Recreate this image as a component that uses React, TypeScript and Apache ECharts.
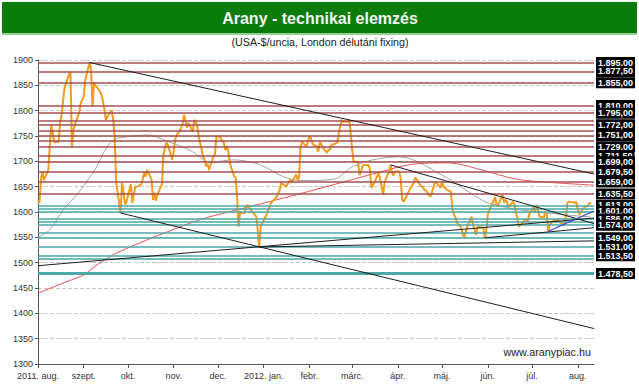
import React, { useEffect, useRef } from "react";
import * as echarts from "echarts";

const FONT = 'Arial, "Liberation Sans", sans-serif';
const START = Date.UTC(2011, 7, 1);
const END = Date.UTC(2012, 7, 12);

const monthNames = ["jan.", "febr.", "márc.", "ápr.", "máj.", "jún.", "júl.", "aug.", "szept.", "okt.", "nov.", "dec."];

// Gold price, London PM fixing (USD/oz)
const pricePoints: [string, number][] = [
  ["2011-08-01", 1623], ["2011-08-02", 1618], ["2011-08-03", 1665], ["2011-08-04", 1680], ["2011-08-05", 1663],
  ["2011-08-08", 1683], ["2011-08-09", 1732], ["2011-08-10", 1772], ["2011-08-11", 1755], ["2011-08-12", 1738],
  ["2011-08-15", 1738], ["2011-08-16", 1778], ["2011-08-17", 1790], ["2011-08-18", 1820], ["2011-08-19", 1845],
  ["2011-08-22", 1871], ["2011-08-23", 1877.5], ["2011-08-24", 1729], ["2011-08-25", 1760], ["2011-08-26", 1772],
  ["2011-08-29", 1797], ["2011-08-30", 1815], ["2011-08-31", 1822],
  ["2011-09-01", 1826], ["2011-09-02", 1860], ["2011-09-05", 1895], ["2011-09-06", 1880], ["2011-09-07", 1808],
  ["2011-09-08", 1855], ["2011-09-09", 1850], ["2011-09-12", 1838], ["2011-09-13", 1831], ["2011-09-14", 1820],
  ["2011-09-15", 1802], ["2011-09-16", 1782], ["2011-09-19", 1798], ["2011-09-20", 1800], ["2011-09-21", 1782],
  ["2011-09-22", 1749], ["2011-09-23", 1658], ["2011-09-26", 1598], ["2011-09-27", 1658], ["2011-09-28", 1640],
  ["2011-09-29", 1615], ["2011-09-30", 1620],
  ["2011-10-03", 1655], ["2011-10-04", 1618], ["2011-10-05", 1635], ["2011-10-06", 1650], ["2011-10-07", 1650],
  ["2011-10-10", 1654], ["2011-10-11", 1664], ["2011-10-12", 1678], ["2011-10-13", 1670], ["2011-10-14", 1683],
  ["2011-10-17", 1664], ["2011-10-18", 1624], ["2011-10-19", 1638], ["2011-10-20", 1622], ["2011-10-21", 1635],
  ["2011-10-24", 1654], ["2011-10-25", 1713], ["2011-10-26", 1725], ["2011-10-27", 1737], ["2011-10-28", 1733],
  ["2011-10-31", 1703],
  ["2011-11-01", 1720], ["2011-11-02", 1743], ["2011-11-03", 1752], ["2011-11-04", 1755], ["2011-11-07", 1772],
  ["2011-11-08", 1792], ["2011-11-09", 1780], ["2011-11-10", 1766], ["2011-11-11", 1776], ["2011-11-14", 1758],
  ["2011-11-15", 1782], ["2011-11-16", 1778], ["2011-11-17", 1770], ["2011-11-18", 1749], ["2011-11-21", 1709],
  ["2011-11-22", 1703], ["2011-11-23", 1690], ["2011-11-24", 1695], ["2011-11-25", 1683], ["2011-11-28", 1710],
  ["2011-11-29", 1715], ["2011-11-30", 1749],
  ["2011-12-01", 1749], ["2011-12-02", 1749], ["2011-12-05", 1737], ["2011-12-06", 1722], ["2011-12-07", 1730],
  ["2011-12-08", 1720], ["2011-12-09", 1697], ["2011-12-12", 1670], ["2011-12-13", 1668], ["2011-12-14", 1630],
  ["2011-12-15", 1571], ["2011-12-16", 1598], ["2011-12-19", 1598], ["2011-12-20", 1610], ["2011-12-21", 1614],
  ["2011-12-22", 1610], ["2011-12-23", 1605], ["2011-12-27", 1591], ["2011-12-28", 1565], ["2011-12-29", 1531],
  ["2011-12-30", 1571],
  ["2012-01-03", 1595], ["2012-01-04", 1604], ["2012-01-05", 1610], ["2012-01-06", 1618], ["2012-01-09", 1627],
  ["2012-01-10", 1630], ["2012-01-11", 1638], ["2012-01-12", 1644], ["2012-01-13", 1658], ["2012-01-16", 1650],
  ["2012-01-17", 1654], ["2012-01-18", 1658], ["2012-01-19", 1664], ["2012-01-20", 1658], ["2012-01-23", 1674],
  ["2012-01-24", 1664], ["2012-01-25", 1668], ["2012-01-26", 1727], ["2012-01-27", 1739], ["2012-01-30", 1729],
  ["2012-01-31", 1739],
  ["2012-02-01", 1749], ["2012-02-02", 1747], ["2012-02-03", 1735], ["2012-02-06", 1729], ["2012-02-07", 1719],
  ["2012-02-08", 1737], ["2012-02-09", 1735], ["2012-02-10", 1727], ["2012-02-13", 1717], ["2012-02-14", 1723],
  ["2012-02-15", 1723], ["2012-02-16", 1733], ["2012-02-17", 1733], ["2012-02-20", 1737], ["2012-02-21", 1756],
  ["2012-02-22", 1770], ["2012-02-23", 1782], ["2012-02-24", 1778], ["2012-02-27", 1778], ["2012-02-28", 1782],
  ["2012-02-29", 1756],
  ["2012-03-01", 1723], ["2012-03-02", 1699], ["2012-03-05", 1699], ["2012-03-06", 1673], ["2012-03-07", 1680],
  ["2012-03-08", 1690], ["2012-03-09", 1693], ["2012-03-12", 1693], ["2012-03-13", 1685], ["2012-03-14", 1648],
  ["2012-03-15", 1652], ["2012-03-16", 1658], ["2012-03-19", 1677], ["2012-03-20", 1664], ["2012-03-21", 1650],
  ["2012-03-22", 1634], ["2012-03-23", 1658], ["2012-03-26", 1680], ["2012-03-27", 1693], ["2012-03-28", 1679],
  ["2012-03-29", 1672], ["2012-03-30", 1680],
  ["2012-04-02", 1680], ["2012-04-03", 1664], ["2012-04-04", 1624], ["2012-04-05", 1620], ["2012-04-10", 1650],
  ["2012-04-11", 1654], ["2012-04-12", 1660], ["2012-04-13", 1668], ["2012-04-16", 1654], ["2012-04-17", 1650],
  ["2012-04-18", 1650], ["2012-04-19", 1643], ["2012-04-20", 1643], ["2012-04-23", 1630], ["2012-04-24", 1638],
  ["2012-04-25", 1648], ["2012-04-26", 1658], ["2012-04-27", 1658], ["2012-04-30", 1648],
  ["2012-05-01", 1660], ["2012-05-02", 1650], ["2012-05-03", 1648], ["2012-05-04", 1644], ["2012-05-07", 1640],
  ["2012-05-08", 1605], ["2012-05-09", 1595], ["2012-05-10", 1590], ["2012-05-11", 1579], ["2012-05-14", 1569],
  ["2012-05-15", 1555], ["2012-05-16", 1551], ["2012-05-17", 1560], ["2012-05-18", 1571], ["2012-05-21", 1591],
  ["2012-05-22", 1575], ["2012-05-23", 1565], ["2012-05-24", 1555], ["2012-05-25", 1571], ["2012-05-29", 1569],
  ["2012-05-30", 1549], ["2012-05-31", 1565],
  ["2012-06-01", 1595], ["2012-06-06", 1630], ["2012-06-07", 1612], ["2012-06-08", 1614], ["2012-06-11", 1634],
  ["2012-06-12", 1618], ["2012-06-13", 1624], ["2012-06-14", 1620], ["2012-06-15", 1610], ["2012-06-18", 1620],
  ["2012-06-19", 1615], ["2012-06-20", 1599], ["2012-06-21", 1589], ["2012-06-22", 1571], ["2012-06-25", 1579],
  ["2012-06-26", 1585], ["2012-06-27", 1585], ["2012-06-28", 1580], ["2012-06-29", 1595],
  ["2012-07-02", 1610], ["2012-07-03", 1599], ["2012-07-04", 1614], ["2012-07-05", 1605], ["2012-07-06", 1591],
  ["2012-07-09", 1589], ["2012-07-10", 1601], ["2012-07-11", 1595], ["2012-07-12", 1562], ["2012-07-13", 1574],
  ["2012-07-16", 1585], ["2012-07-17", 1579], ["2012-07-18", 1585], ["2012-07-19", 1583], ["2012-07-20", 1579],
  ["2012-07-23", 1575], ["2012-07-24", 1591], ["2012-07-25", 1618], ["2012-07-26", 1620], ["2012-07-27", 1620],
  ["2012-07-30", 1618], ["2012-07-31", 1620],
  ["2012-08-01", 1605], ["2012-08-02", 1595], ["2012-08-03", 1600], ["2012-08-06", 1610], ["2012-08-07", 1612],
  ["2012-08-08", 1612], ["2012-08-09", 1618], ["2012-08-10", 1618],
];

// Short moving average (gray)
const maShortPoints: [string, number][] = [
  ["2011-08-01", 1550], ["2011-08-09", 1565], ["2011-08-18", 1604], ["2011-08-29", 1640], ["2011-09-05", 1668],
  ["2011-09-10", 1690], ["2011-09-15", 1720], ["2011-09-21", 1742], ["2011-09-29", 1748], ["2011-10-14", 1752],
  ["2011-10-30", 1737], ["2011-11-12", 1722], ["2011-11-26", 1698], ["2011-12-11", 1703], ["2011-12-29", 1694],
  ["2012-01-14", 1670], ["2012-01-26", 1662], ["2012-02-18", 1665], ["2012-03-01", 1689], ["2012-03-15", 1703],
  ["2012-04-02", 1709], ["2012-05-04", 1668], ["2012-05-20", 1638], ["2012-06-02", 1617], ["2012-06-29", 1602],
  ["2012-08-10", 1590],
];

// Long moving average (red)
const maLongPoints: [string, number][] = [
  ["2011-08-01", 1440], ["2011-08-20", 1462], ["2011-09-01", 1476], ["2011-09-12", 1500], ["2011-09-24", 1520],
  ["2011-10-20", 1552], ["2011-11-19", 1585], ["2011-12-15", 1605], ["2012-01-15", 1628], ["2012-02-15", 1652],
  ["2012-03-15", 1675], ["2012-04-10", 1694], ["2012-05-05", 1697], ["2012-05-28", 1683], ["2012-06-20", 1665],
  ["2012-07-15", 1658], ["2012-08-12", 1653],
];

// Trend lines: [fromDate, fromValue, toDate, toValue]
const blackTrendLines: [string, number, string, number][] = [
  ["2011-09-05", 1895, "2012-08-12", 1675],
  ["2011-09-26", 1598, "2012-08-12", 1370],
  ["2011-08-01", 1494, "2012-08-12", 1588],
  ["2011-12-29", 1531, "2012-08-12", 1543],
  ["2012-05-30", 1549, "2012-08-12", 1569],
  ["2012-03-27", 1693, "2012-08-12", 1577],
];
const blueTrendLines: [string, number, string, number][] = [
  ["2012-07-12", 1562, "2012-08-12", 1602],
];

// Horizontal resistance / support levels
const resistanceLevels = [1895, 1877.5, 1855, 1810, 1795, 1772, 1751, 1729, 1711.5, 1699, 1679.5, 1659, 1635.5];
const resistanceUnlabeled = [1781, 1760, 1741];
const supportLevels = [1613, 1601, 1586, 1574, 1549, 1531, 1513.5, 1478.5];
const supportUnlabeled = [1607, 1581, 1559, 1507];

function buildCategories(): string[] {
  const out: string[] = [];
  for (let t = START; t <= END; t += 86400000) out.push(new Date(t).toISOString().slice(0, 10));
  return out;
}

function fmtLevel(v: number): string {
  const [i, f] = v.toFixed(2).split(".");
  return i.replace(/\B(?=(\d{3})+(?!\d))/g, ".") + "," + f;
}

function fmtMonth(value: string): string {
  const y = value.slice(0, 4);
  const m = parseInt(value.slice(5, 7), 10) - 1;
  if ((y === "2011" && m === 7) || (y === "2012" && m === 0)) return y + ". " + monthNames[m];
  return monthNames[m];
}

export default function App() {
  const ref = useRef<HTMLDivElement>(null);

  useEffect(() => {
    if (!ref.current) return;
    const chart = echarts.init(ref.current, undefined, { renderer: "svg" });
    const cats = buildCategories();
    const index: Record<string, number> = {};
    cats.forEach((c, i) => (index[c] = i));
    const toSeries = (pts: [string, number][]) => {
      const arr: (number | null)[] = cats.map(() => null);
      pts.forEach(([d, v]) => {
        if (index[d] !== undefined) arr[index[d]] = v;
      });
      return arr;
    };

    const redColor = "#a54f50";
    const tealColor = "#4ba7a8";

    const levelLabel = {
      show: true,
      position: "end",
      distance: 2,
      backgroundColor: "#000",
      color: "#fff",
      fontWeight: "bold",
      fontSize: 9,
      fontFamily: FONT,
      padding: [1, 2, 1, 2],
      lineHeight: 9,
    };

    const markData: any[] = [];
    resistanceUnlabeled.forEach((v) =>
      markData.push({ yAxis: v, lineStyle: { color: redColor, width: 1.5, type: "solid" }, label: { show: false } })
    );
    supportUnlabeled.forEach((v) =>
      markData.push({ yAxis: v, lineStyle: { color: tealColor, width: 1.5, type: "solid" }, label: { show: false } })
    );
    resistanceLevels.forEach((v) =>
      markData.push({
        yAxis: v,
        lineStyle: { color: redColor, width: 1.5, type: "solid" },
        label: { ...levelLabel, formatter: fmtLevel(v) },
      })
    );
    supportLevels.forEach((v) =>
      markData.push({
        yAxis: v,
        lineStyle: { color: tealColor, width: v < 1490 ? 3 : 1.5, type: "solid" },
        label: { ...levelLabel, formatter: fmtLevel(v) },
      })
    );

    const trendSeries = (lines: [string, number, string, number][], color: string, width: number) =>
      lines.map((l) => ({
        type: "line",
        data: toSeries([[l[0], l[1]], [l[2], l[3]]]),
        connectNulls: true,
        symbol: "none",
        silent: true,
        z: 5,
        lineStyle: { color, width },
      }));

    const isMonthStart = (_i: number, v: string) => v.slice(8, 10) === "01";

    chart.setOption({
      animation: false,
      textStyle: { fontFamily: FONT },
      grid: { left: 38, right: 45, top: 60, bottom: 24, containLabel: false },
      xAxis: {
        type: "category",
        data: cats,
        boundaryGap: false,
        axisLine: { lineStyle: { color: "#555", width: 1 } },
        axisTick: { interval: isMonthStart, length: 4, lineStyle: { color: "#555" } },
        axisLabel: {
          interval: isMonthStart,
          formatter: fmtMonth,
          fontSize: 9,
          color: "#333",
          margin: 7,
          fontFamily: FONT,
        },
        splitLine: { show: false },
      },
      yAxis: {
        type: "value",
        min: 1300,
        max: 1900,
        interval: 50,
        axisLine: { show: true, lineStyle: { color: "#555", width: 1 } },
        axisTick: { show: true, length: 3, lineStyle: { color: "#555" } },
        axisLabel: {
          fontSize: 9,
          color: "#333",
          margin: 5,
          fontFamily: FONT,
          formatter: (v: number) => String(v),
        },
        splitLine: { show: true, lineStyle: { color: "#cbc4c4", type: "dashed", width: 1 } },
      },
      graphic: [
        { type: "rect", shape: { x: 2, y: 2, width: 635, height: 31 }, style: { fill: "#0b7c0b" }, z: 100 },
        { type: "rect", shape: { x: 2, y: 33, width: 635, height: 2 }, style: { fill: "#93cf93" }, z: 100 },
        {
          type: "text",
          x: 320,
          y: 18,
          z: 101,
          style: {
            text: "Arany - technikai elemzés",
            fill: "#f4f4f4",
            font: "bold 16px " + FONT,
            align: "center",
            verticalAlign: "middle",
          },
        },
        {
          type: "text",
          x: 320,
          y: 42,
          z: 101,
          style: {
            text: "(USA-$/uncia, London délutáni fixing)",
            fill: "#222",
            font: "10.7px " + FONT,
            align: "center",
            verticalAlign: "middle",
          },
        },
        {
          type: "text",
          x: 591,
          y: 352,
          z: 101,
          style: {
            text: "www.aranypiac.hu",
            fill: "#222",
            font: "10.8px " + FONT,
            align: "right",
            verticalAlign: "middle",
          },
        },
      ],
      series: [
        {
          type: "line",
          name: "levels",
          data: cats.map(() => null),
          symbol: "none",
          silent: true,
          z: 1,
          markLine: {
            silent: true,
            symbol: ["none", "none"],
            animation: false,
            data: markData,
          },
        },
        {
          type: "line",
          data: toSeries(maLongPoints),
          connectNulls: true,
          smooth: 0.3,
          symbol: "none",
          silent: true,
          z: 3,
          lineStyle: { color: "#e02a2a", width: 0.8 },
        },
        {
          type: "line",
          data: toSeries(maShortPoints),
          connectNulls: true,
          smooth: 0.3,
          symbol: "none",
          silent: true,
          z: 3,
          lineStyle: { color: "#8a8a8a", width: 0.8 },
        },
        {
          type: "line",
          data: toSeries(pricePoints),
          connectNulls: true,
          symbol: "none",
          silent: true,
          z: 4,
          lineStyle: { color: "#f29c1f", width: 2 },
        },
        ...trendSeries(blackTrendLines, "#1e1e1e", 1),
        ...trendSeries(blueTrendLines, "#3048cc", 1.2),
      ],
    });
    return () => chart.dispose();
  }, []);

  return (
    <div
      ref={ref}
      style={{ position: "fixed", left: 0, top: 0, width: 639, height: 388, background: "#fff" }}
    />
  );
}
